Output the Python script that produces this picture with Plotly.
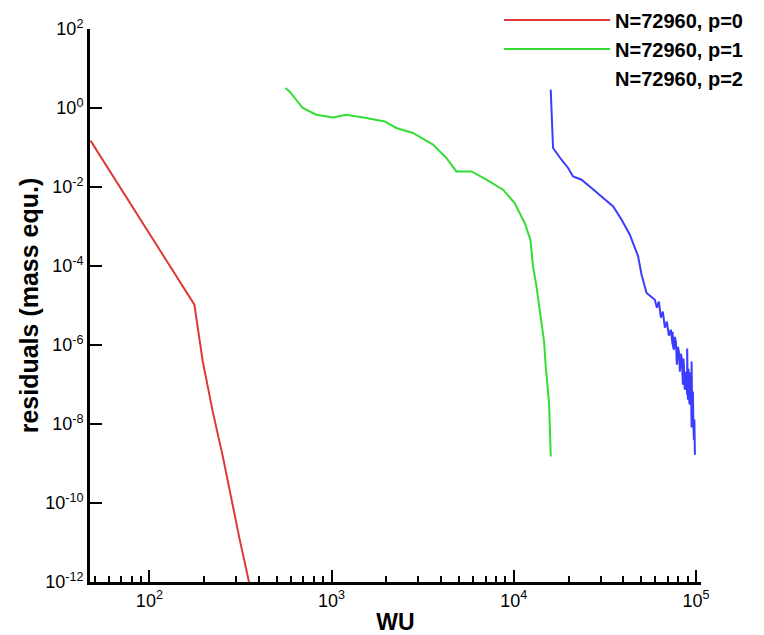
import plotly.graph_objects as go

# ---- data ----
red_wu = [47.5, 176.6, 196, 223, 253, 275, 313, 350, 362]
red_res = [0.15, 1.05e-5, 4.0e-7, 2.0e-8, 1.5e-9, 2.2e-10, 1.2e-11, 1.15e-12, 5e-13]

green_wu = [558, 588, 695, 824, 1016, 1205, 1552, 1955, 2268, 2799, 3603, 4270, 4842,
            5860, 7080, 8735, 10120, 11480, 12350, 12760, 13330, 13900, 14670, 14990,
            15630, 15970]
green_res = [3.21, 2.63, 1.0, 0.676, 0.578, 0.676, 0.558, 0.458, 0.312, 0.233, 0.118,
             0.0542, 0.0248, 0.0248, 0.0153, 0.00855, 0.00394, 0.00123, 4.64e-4, 9.8e-5,
             3.05e-5, 6.46e-6, 1.23e-6, 2.87e-7, 3.4e-8, 1.5e-9]

blue_wu = [15960, 16320, 16440, 18280, 19880, 21170, 23550, 26720, 30960, 35160, 39090,
           43390, 48180, 50330, 53610, 58250,
           59530, 61060, 62620, 64220, 65870, 67550, 69280, 71060, 72880, 74470, 74470,
           75000, 75700, 76600, 77640, 78630, 79600, 80640, 81670, 82700, 83760, 84830,
           85400, 85910, 86500, 87010, 88110, 88800, 89570, 89570, 90000, 90370, 91000,
           91510, 92100, 92680, 93300, 93860, 94700, 94700, 95200, 95660, 96260, 96900,
           97490, 98110, 98400, 98740]
blue_res = [2.90, 0.157, 0.097, 0.049, 0.0303, 0.0185, 0.0153, 0.00944, 0.00527, 0.00323,
            0.00149, 6.2e-4, 1.75e-4, 6.0e-5, 2.07e-5, 1.55e-5,
            1.40e-5, 8.8e-6, 1.25e-5, 4.9e-6, 7.0e-6, 2.74e-6, 3.9e-6, 1.72e-6, 2.44e-6,
            1.02e-6, 2.17e-6, 9.0e-7, 7.6e-7, 1.6e-6, 1.21e-6, 3.17e-7, 9.0e-7, 6.8e-7,
            2.11e-7, 6.0e-7, 4.25e-7, 9.9e-8, 4.5e-7, 3.17e-7, 1.0e-7, 7.4e-8, 2.11e-7,
            6.0e-8, 5.5e-8, 8.1e-7, 1.5e-7, 4.1e-8, 2.5e-7, 1.77e-7, 3.5e-8, 3.1e-8,
            2.0e-7, 1.32e-7, 8.1e-9, 3.8e-7, 5.0e-8, 1.72e-8, 6.6e-8, 9.0e-9, 4.0e-9,
            1.29e-8, 3.0e-9, 1.67e-9]

series_names = ["N=72960, p=0", "N=72960, p=1", "N=72960, p=2"]
series_colors = ["#e03838", "#33dd33", "#3c3cff"]

x_major = [1e2, 1e3, 1e4, 1e5]
x_major_text = ["10<sup>2</sup>", "10<sup>3</sup>", "10<sup>4</sup>", "10<sup>5</sup>"]
x_minor = [50, 60, 70, 80, 90] + [m * 10 ** e for e in (2, 3, 4) for m in range(2, 10)]
y_major = [1e2, 1e0, 1e-2, 1e-4, 1e-6, 1e-8, 1e-10, 1e-12]
y_major_text = ["10<sup>2</sup>", "10<sup>0</sup>", "10<sup>-2</sup>", "10<sup>-4</sup>",
                "10<sup>-6</sup>", "10<sup>-8</sup>", "10<sup>-10</sup>", "10<sup>-12</sup>"]

FONT = "Liberation Sans, Arial, sans-serif"

fig = go.Figure()
fig.add_trace(go.Scatter(x=red_wu, y=red_res, mode="lines", name=series_names[0],
                         line=dict(color=series_colors[0], width=2)))
fig.add_trace(go.Scatter(x=green_wu, y=green_res, mode="lines", name=series_names[1],
                         line=dict(color=series_colors[1], width=2)))
fig.add_trace(go.Scatter(x=blue_wu, y=blue_res, mode="lines", name=series_names[2],
                         line=dict(color=series_colors[2], width=2), showlegend=False))
# legend entry for p=2 (the reference shows no line sample for it)
fig.add_trace(go.Scatter(x=[None], y=[None], mode="lines", name=series_names[2],
                         line=dict(color=series_colors[2], width=0)))

fig.update_layout(
    width=764, height=635,
    margin=dict(l=90, r=63, t=29, b=53, autoexpand=False),
    paper_bgcolor="white", plot_bgcolor="white",
    font=dict(family=FONT, color="black", size=18),
    showlegend=True,
    legend=dict(x=0.6695, y=1.0515, xanchor="left", yanchor="top",
                bgcolor="rgba(0,0,0,0)", borderwidth=0, itemwidth=106,
                font=dict(size=20, family=FONT, color="black", weight="bold"),
                tracegroupgap=0),
    xaxis=dict(type="log", range=[1.674, 5.028], showline=True, linecolor="black",
               linewidth=3, ticks="inside", ticklen=12, tickwidth=2, tickcolor="black",
               tickmode="array", tickvals=x_major, ticktext=x_major_text,
               showgrid=False, zeroline=False, automargin=False,
               minor=dict(ticks="inside", ticklen=6, tickwidth=2, tickcolor="black",
                          tickvals=x_minor, showgrid=False),
               tickfont=dict(size=18, family=FONT),
               title=dict(text="<b>WU</b>", font=dict(size=23, family=FONT), standoff=14)),
    yaxis=dict(type="log", range=[-12, 2], showline=True, linecolor="black",
               linewidth=3, ticks="inside", ticklen=12, tickwidth=2, tickcolor="black",
               tickmode="array", tickvals=y_major, ticktext=y_major_text,
               showgrid=False, zeroline=False, automargin=False,
               tickfont=dict(size=18, family=FONT),
               title=dict(text="<b>residuals (mass equ.)</b>",
                          font=dict(size=25, family=FONT), standoff=0)),
)

fig.write_html("out.html")
